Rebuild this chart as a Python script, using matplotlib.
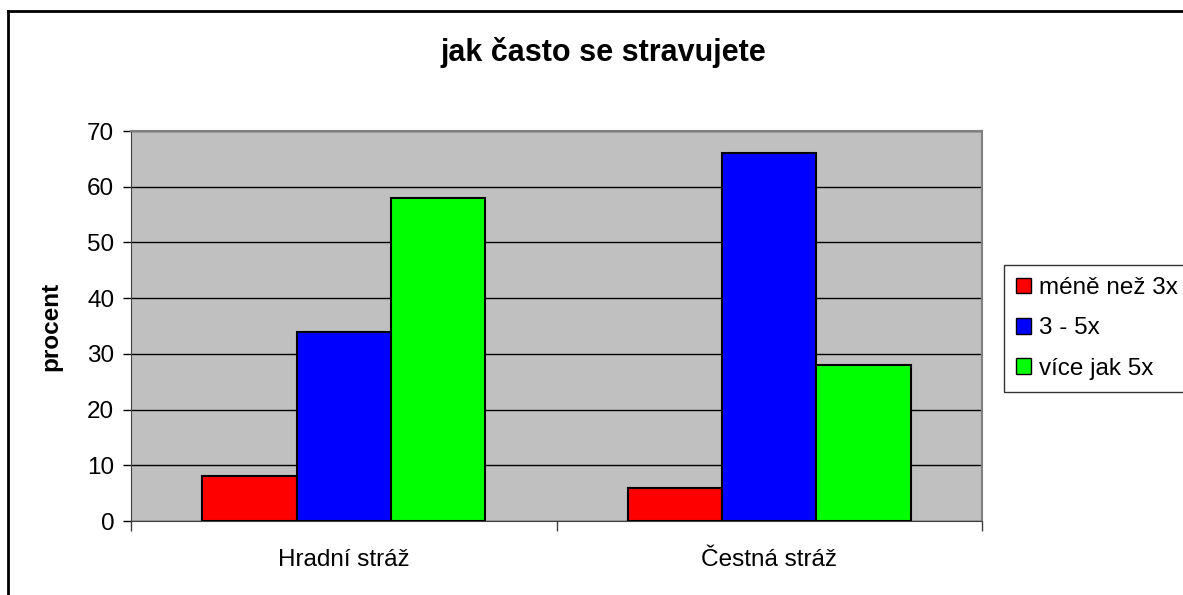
import numpy as np
import matplotlib
matplotlib.use('Agg')
import matplotlib.pyplot as plt
from matplotlib.lines import Line2D

plt.rcParams['font.family'] = ['Liberation Sans', 'DejaVu Sans']

# --- data ---
groups = ['Hradní stráž', 'Čestná stráž']
series = ['méně než 3x', '3 - 5x', 'více jak 5x']
mene_3x = [8, 6]
od_3_do_5x = [34, 66]
vice_5x = [58, 28]
values = [mene_3x, od_3_do_5x, vice_5x]
colors = ['#FF0000', '#0000FF', '#00FF00']
yticks = [0, 10, 20, 30, 40, 50, 60, 70]

W, H = 1183, 595
fs = 17.5
fig = plt.figure(figsize=(W / 100, H / 100), dpi=100)
ax = fig.add_axes([131 / W, 1 - 521 / H, (982 - 131) / W, (521 - 131) / H])
ax.set_facecolor('#C0C0C0')

x = np.arange(len(groups))
w = 0.222
for i, (vals, c, name) in enumerate(zip(values, colors, series)):
    ax.bar(x + (i - 1) * w, vals, w, color=c, edgecolor='black',
           linewidth=1.5, label=name, zorder=3)

ax.set_xlim(-0.5, len(groups) - 0.5)
ax.set_ylim(0, 70)
ax.set_yticks(yticks)
ax.yaxis.grid(True, color='black', linewidth=1.0, zorder=1)
ax.set_axisbelow(True)
ax.tick_params(axis='y', labelsize=fs, length=6, width=1, pad=6, colors='black')

ax.set_xticks(x)
ax.set_xticklabels(groups)
ax.set_xticks(np.arange(-0.5, len(groups)), minor=True)
ax.tick_params(axis='x', which='major', length=0, pad=20, labelsize=fs)
ax.tick_params(axis='x', which='minor', length=7, width=1, color='#404040')

for side in ['top', 'right']:
    ax.spines[side].set_color('#808080')
    ax.spines[side].set_linewidth(1.5)
ax.spines['left'].set_color('#404040')
ax.spines['bottom'].set_color('#404040')

ax.set_ylabel('procent', fontsize=fs, fontweight='bold', labelpad=18)

fig.text(603 / W, 1 - 52 / H, 'jak často se stravujete', ha='center', va='center',
         fontsize=22, fontweight='bold')

leg = fig.legend(loc='upper left', bbox_to_anchor=(1004 / W, 1 - 265 / H),
                 fontsize=fs, frameon=True, fancybox=False, edgecolor='black',
                 handlelength=0.6, handleheight=0.6, handletextpad=0.35,
                 labelspacing=0.75, borderpad=0.5, borderaxespad=0)
leg.get_frame().set_linewidth(1.0)
for p in leg.get_patches():
    p.set_edgecolor('black')
    p.set_linewidth(1.0)

# outer chart border (right and bottom cut off in the original)
fig.add_artist(Line2D([8 / W, 8 / W], [1 - 11 / H, 0.0], color='black', linewidth=2,
                      transform=fig.transFigure))
fig.add_artist(Line2D([8 / W, 1.0], [1 - 11 / H, 1 - 11 / H], color='black', linewidth=2,
                      transform=fig.transFigure))

fig.savefig('out.png', dpi=100)
